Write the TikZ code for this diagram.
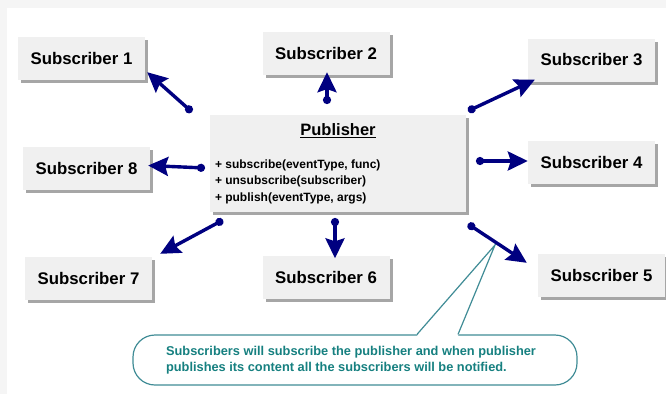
\documentclass[tikz,border=0pt]{standalone}
\usepackage{fontspec}
\setmainfont{Liberation Sans}
\usetikzlibrary{arrows.meta,calc,shadows}
\definecolor{navyarrow}{RGB}{0,0,128}
\definecolor{boxgray}{RGB}{240,240,240}
\definecolor{framegray}{RGB}{245,245,245}
\definecolor{noteteal}{RGB}{22,128,128}
\definecolor{noteline}{RGB}{64,140,150}

\begin{document}
\begin{tikzpicture}[x=1pt, y=-1pt,
    sub/.style={fill=boxgray, minimum width=127pt, minimum height=43pt, inner sep=0pt,
      font=\fontsize{16.8}{19}\selectfont\bfseries,
      drop shadow={shadow xshift=3pt, shadow yshift=-3pt, fill=black, opacity=0.35}},
    pubbox/.style={sub, minimum width=256pt, minimum height=97pt},
    methods/.style={inner sep=0pt, align=left, font=\fontsize{12}{16.5}\selectfont\bfseries},
    note/.style={draw=noteline, line width=1.2pt, fill=white, rounded corners=22pt,
      minimum width=444pt, minimum height=50pt, align=left, text=noteteal,
      font=\fontsize{12.8}{16}\selectfont\bfseries},
    conn/.style={navyarrow, line width=3.4pt,
      {Circle[length=8pt]}-{Stealth[length=20pt, width=19pt, inset=3pt]}}
  ]
    \useasboundingbox (0,0) rectangle (666,394);
    \fill[framegray] (0,0) rectangle (666,394);
    \fill[white] (7,8) rectangle (666,394);

    % callout
    \node[note] (note) at (355,360) {};
    \node[inner sep=0pt, align=left, text=noteteal, font=\fontsize{12.8}{16}\selectfont\bfseries] (notetext) at ($(note.center)+(-4,0)$) {Subscribers will subscribe the publisher and when publisher\\publishes its content all the subscribers will be notified.};
    \coordinate (ptip) at (495,245);
    \fill[white] ($(note.north)+(62,1.5)$) -- (ptip) -- ($(note.north)+(103,1.5)$) -- cycle;
    \draw[noteline, line width=1.2pt] ($(note.north)+(62,0)$) -- (ptip) -- ($(note.north)+(103,0)$);

    % publisher
    \node[pubbox] (pub) at (338,163.5) {};
    \node[font=\fontsize{16.5}{19}\selectfont\bfseries] (pubtitle) at ($(pub.north)+(0,16)$) {\underline{Publisher}};
    \node[methods, anchor=west] (methods) at ($(pub.west)+(5,18)$) {+ subscribe(eventType, func)\\+ unsubscribe(subscriber)\\+ publish(eventType, args)};

    % subscribers
    \node[sub] (s1) at (81.5,58.5)  {Subscriber 1};
    \node[sub] (s2) at (326,53.5)   {Subscriber 2};
    \node[sub] (s3) at (591.5,60)   {Subscriber 3};
    \node[sub] (s4) at (591.5,162)  {Subscriber 4};
    \node[sub] (s5) at (601.5,275.5) {Subscriber 5};
    \node[sub] (s6) at (326,277)    {Subscriber 6};
    \node[sub] (s7) at (88.5,278.5) {Subscriber 7};
    \node[sub] (s8) at (86.5,168.5) {Subscriber 8};

    % start points of the connectors
    \coordinate (d1) at (192,112);
    \coordinate (d2) at (327,104);
    \coordinate (d3) at (468,111);
    \coordinate (d4) at (476,161);
    \coordinate (d5) at (468,224);
    \coordinate (d6) at (335,218);
    \coordinate (d7) at (223,220);
    \coordinate (d8) at (205,168);

    \draw[conn] (d1) -- ($(s1.south east)+(2,-8)$);
    \draw[conn] (d2) -- ($(s2.south)+(1,-3)$);
    \draw[conn] (d3) -- ($(s3.south west)+(7,-2)$);
    \draw[conn] (d4) -- ($(s4.west)+(0,-1)$);
    \draw[conn] (d5) -- ($(s5.north west)+(-11,9)$);
    \draw[conn] (d6) -- ($(s6.north)+(9,3)$);
    \draw[conn] (d7) -- ($(s7.north east)+(8,-3)$);
    \draw[conn] (d8) -- ($(s8.east)+(-2,-3)$);
  \end{tikzpicture}
\end{document}
